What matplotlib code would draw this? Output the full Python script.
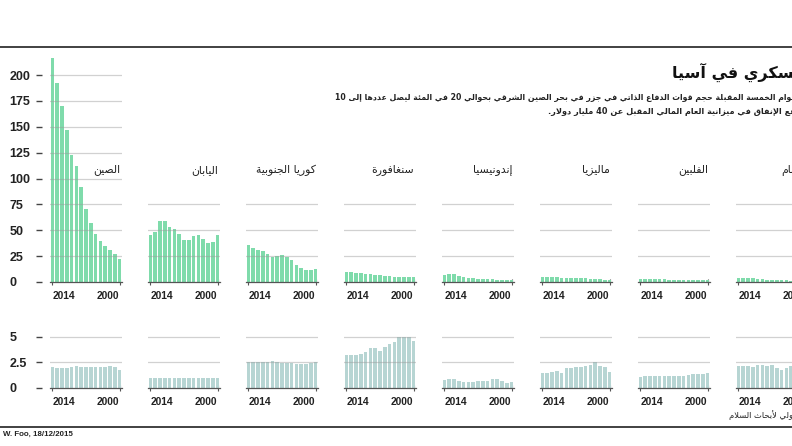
import re
import matplotlib
matplotlib.use('Agg')
import matplotlib.pyplot as plt
from matplotlib.lines import Line2D

# ---------------- data ----------------
years = list(range(2014, 1999, -1))  # 2014 ... 2000 (left to right)
countries = ['الصين', 'اليابان', 'كوريا الجنوبية', 'سنغافورة',
             'إندونيسيا', 'ماليزيا', 'الفلبين', 'فيتنام']

# military spending, billion USD
china_bn = [216, 192, 170, 147, 123, 112, 92, 71, 57, 46, 40, 35, 31, 27, 22]
japan_bn = [45, 48, 59, 59, 53, 51, 46, 41, 41, 44, 45, 42, 38, 39, 45]
korea_bn = [36, 33, 31, 30, 27, 24, 25, 26, 24, 21, 16, 14, 12, 12, 12.5]
singapore_bn = [9.5, 9.3, 9.0, 8.6, 8.2, 7.8, 7.0, 6.4, 6.0, 5.6, 5.2, 4.9, 4.8, 4.6, 4.8]
indonesia_bn = [7.0, 8.0, 7.5, 6.0, 4.5, 4.0, 3.5, 3.2, 3.0, 2.8, 2.6, 2.4, 2.0, 1.8, 1.6]
malaysia_bn = [4.9, 4.8, 4.5, 4.7, 4.3, 4.2, 4.0, 3.9, 3.6, 3.4, 3.2, 3.0, 2.5, 2.0, 1.8]
philippines_bn = [3.3, 3.2, 3.0, 2.9, 2.7, 2.5, 2.4, 2.3, 2.2, 2.2, 2.1, 2.1, 2.0, 2.0, 2.0]
vietnam_bn = [4.3, 4.0, 3.9, 3.4, 3.2, 2.8, 2.4, 2.0, 1.8, 1.6, 1.5, 1.3, 1.2, 1.1, 1.0]

# military spending, % of GDP
china_gdp = [2.0, 1.95, 1.95, 1.95, 2.03, 2.13, 2.0, 2.0, 2.0, 2.0, 2.0, 2.06, 2.13, 2.0, 1.8]
japan_gdp = [0.97, 0.98, 1.0, 1.0, 0.98, 0.98, 0.95, 0.95, 0.97, 0.97, 0.97, 0.97, 0.97, 0.95, 0.95]
korea_gdp = [2.55, 2.58, 2.55, 2.55, 2.55, 2.65, 2.58, 2.48, 2.48, 2.48, 2.32, 2.32, 2.35, 2.48, 2.5]
singapore_gdp = [3.25, 3.2, 3.2, 3.3, 3.5, 3.85, 3.85, 3.6, 3.95, 4.3, 4.45, 4.95, 5.0, 4.95, 4.55]
indonesia_gdp = [0.77, 0.9, 0.87, 0.65, 0.61, 0.55, 0.55, 0.71, 0.71, 0.71, 0.87, 0.87, 0.65, 0.48, 0.58]
malaysia_gdp = [1.45, 1.45, 1.52, 1.61, 1.48, 1.9, 1.9, 2.0, 2.0, 2.13, 2.26, 2.55, 2.19, 2.03, 1.58]
philippines_gdp = [1.06, 1.16, 1.13, 1.13, 1.16, 1.16, 1.16, 1.19, 1.19, 1.19, 1.26, 1.35, 1.32, 1.32, 1.42]
vietnam_gdp = [2.19, 2.19, 2.13, 2.0, 2.26, 2.26, 2.19, 2.26, 1.9, 1.74, 1.95, 2.1, 2.2, 2.3, 2.2]

top_ticks = [0, 25, 50, 75, 100, 125, 150, 175, 200]
top_ticklabels = ['0', '25', '50', '75', '100', '125', '150', '175', '200']
bot_ticks = [0, 2.5, 5]
bot_ticklabels = ['0', '2.5', '5']
x_ticks = [2014, 2000]
x_ticklabels = ['2014', '2000']

title = 'الإنفاق العسكري في آسيا'
subtitle1 = ('وستزيد اليابان خلال الأعوام الخمسة المقبلة حجم قوات الدفاع الذاتي في جزر '
             'في بحر الصين الشرقي بحوالي 20 في المئة ليصل عددها إلى 10')
subtitle2 = 'آلاف جندي، كما سيرتفع الإنفاق في ميزانية العام المالي المقبل عن 40 مليار دولار.'
source = 'المصدر: معهد ستوكهولم الدولي لأبحاث السلام'
credit = 'W. Foo, 18/12/2015'

spending = [china_bn, japan_bn, korea_bn, singapore_bn, indonesia_bn,
            malaysia_bn, philippines_bn, vietnam_bn]
gdp_share = [china_gdp, japan_gdp, korea_gdp, singapore_gdp, indonesia_gdp,
             malaysia_gdp, philippines_gdp, vietnam_gdp]

# ---------------- minimal Arabic shaping (presentation forms + visual order) ----------------
AR = {
    '\u0621': ('\uFE80', None, None, None),
    '\u0622': ('\uFE81', '\uFE82', None, None),
    '\u0623': ('\uFE83', '\uFE84', None, None),
    '\u0624': ('\uFE85', '\uFE86', None, None),
    '\u0625': ('\uFE87', '\uFE88', None, None),
    '\u0626': ('\uFE89', '\uFE8A', '\uFE8B', '\uFE8C'),
    '\u0627': ('\uFE8D', '\uFE8E', None, None),
    '\u0628': ('\uFE8F', '\uFE90', '\uFE91', '\uFE92'),
    '\u0629': ('\uFE93', '\uFE94', None, None),
    '\u062A': ('\uFE95', '\uFE96', '\uFE97', '\uFE98'),
    '\u062B': ('\uFE99', '\uFE9A', '\uFE9B', '\uFE9C'),
    '\u062C': ('\uFE9D', '\uFE9E', '\uFE9F', '\uFEA0'),
    '\u062D': ('\uFEA1', '\uFEA2', '\uFEA3', '\uFEA4'),
    '\u062E': ('\uFEA5', '\uFEA6', '\uFEA7', '\uFEA8'),
    '\u062F': ('\uFEA9', '\uFEAA', None, None),
    '\u0630': ('\uFEAB', '\uFEAC', None, None),
    '\u0631': ('\uFEAD', '\uFEAE', None, None),
    '\u0632': ('\uFEAF', '\uFEB0', None, None),
    '\u0633': ('\uFEB1', '\uFEB2', '\uFEB3', '\uFEB4'),
    '\u0634': ('\uFEB5', '\uFEB6', '\uFEB7', '\uFEB8'),
    '\u0635': ('\uFEB9', '\uFEBA', '\uFEBB', '\uFEBC'),
    '\u0636': ('\uFEBD', '\uFEBE', '\uFEBF', '\uFEC0'),
    '\u0637': ('\uFEC1', '\uFEC2', '\uFEC3', '\uFEC4'),
    '\u0638': ('\uFEC5', '\uFEC6', '\uFEC7', '\uFEC8'),
    '\u0639': ('\uFEC9', '\uFECA', '\uFECB', '\uFECC'),
    '\u063A': ('\uFECD', '\uFECE', '\uFECF', '\uFED0'),
    '\u0641': ('\uFED1', '\uFED2', '\uFED3', '\uFED4'),
    '\u0642': ('\uFED5', '\uFED6', '\uFED7', '\uFED8'),
    '\u0643': ('\uFED9', '\uFEDA', '\uFEDB', '\uFEDC'),
    '\u0644': ('\uFEDD', '\uFEDE', '\uFEDF', '\uFEE0'),
    '\u0645': ('\uFEE1', '\uFEE2', '\uFEE3', '\uFEE4'),
    '\u0646': ('\uFEE5', '\uFEE6', '\uFEE7', '\uFEE8'),
    '\u0647': ('\uFEE9', '\uFEEA', '\uFEEB', '\uFEEC'),
    '\u0648': ('\uFEED', '\uFEEE', None, None),
    '\u0649': ('\uFEEF', '\uFEF0', None, None),
    '\u064A': ('\uFEF1', '\uFEF2', '\uFEF3', '\uFEF4'),
}
LAM_ALEF = {'\u0622': ('\uFEF5', '\uFEF6'), '\u0623': ('\uFEF7', '\uFEF8'),
            '\u0625': ('\uFEF9', '\uFEFA'), '\u0627': ('\uFEFB', '\uFEFC')}


def _joins_next(c):
    return c in AR and AR[c][2] is not None


def _joins_prev(c):
    return c in AR and AR[c][1] is not None


def ar(s):
    out = []
    i, n, prev = 0, len(s), None
    while i < n:
        c = s[i]
        if c not in AR:
            out.append(c)
            prev = None
            i += 1
            continue
        conn_prev = prev is not None and _joins_next(prev)
        if c == '\u0644' and i + 1 < n and s[i + 1] in LAM_ALEF:
            iso, fin = LAM_ALEF[s[i + 1]]
            out.append(fin if conn_prev else iso)
            prev = s[i + 1]
            i += 2
            continue
        nxt = s[i + 1] if i + 1 < n else None
        conn_next = _joins_next(c) and nxt is not None and _joins_prev(nxt)
        iso, fin, ini, med = AR[c]
        if conn_prev and conn_next:
            f = med
        elif conn_prev:
            f = fin
        elif conn_next:
            f = ini
        else:
            f = iso
        out.append(f)
        prev = c
        i += 1
    vis = ''.join(out)[::-1]
    vis = re.sub(r'[0-9]+', lambda m: m.group(0)[::-1], vis)
    return vis


# ---------------- layout ----------------
W, H = 792, 446
fig = plt.figure(figsize=(W / 100, H / 100), dpi=100)
fig.patch.set_facecolor('white')


def fx(x):
    return x / W


def fy(y):
    return 1 - y / H


AR_FONT = ['DejaVu Sans']
LAT_FONT = ['Liberation Sans', 'DejaVu Sans']

TOP_BASE, TOP_SCALE, TOP_MAX = 282, 1.035, 222
BOT_BASE, BOT_SCALE, BOT_MAX = 388, 10.27, 5.3
L0, STEP, PW = 50, 98, 72
GREEN = '#7fdbab'
TEAL = '#b7d5d3'
GRID = '#9a9a9a'
AXC = '#555555'

rows = [
    (spending, TOP_BASE, TOP_SCALE, TOP_MAX, GREEN, top_ticks, top_ticklabels),
    (gdp_share, BOT_BASE, BOT_SCALE, BOT_MAX, TEAL, bot_ticks, bot_ticklabels),
]

for r, (series, base, scale, ymax, color, yt, ytl) in enumerate(rows):
    for i, vals in enumerate(series):
        left = L0 + STEP * i
        h = ymax * scale
        ax = fig.add_axes([fx(left), fy(base), PW / W, h / H])
        ax.set_facecolor('none')
        ax.bar(years, vals, width=0.78, color=color, zorder=2)
        if r == 0:
            grid_vals = [t for t in yt if t > 0 and (i == 0 and t <= 200 or t <= 75)]
        else:
            grid_vals = [t for t in yt if t > 0]
        for g in grid_vals:
            ax.axhline(g, color=GRID, lw=0.9, alpha=0.45, zorder=3)
        ax.set_xlim(2014.5, 1999.5)
        ax.set_ylim(0, ymax)
        for sp in ['top', 'right']:
            ax.spines[sp].set_visible(False)
        ax.spines['bottom'].set_color(AXC)
        ax.spines['bottom'].set_linewidth(0.9)
        ax.spines['bottom'].set_zorder(4)
        ax.set_xticks(x_ticks)
        ax.set_xticklabels(x_ticklabels, fontfamily=LAT_FONT, fontweight='bold',
                           fontsize=7.4, color='#222222')
        xl = ax.get_xticklabels()
        xl[0].set_horizontalalignment('left')
        xl[1].set_horizontalalignment('right')
        ax.tick_params(axis='x', direction='inout', length=4, width=0.8,
                       color=AXC, pad=4.5)
        if i == 0:
            ax.spines['left'].set_position(('outward', 6))
            ax.spines['left'].set_visible(False)
            ax.set_yticks(yt)
            ax.set_yticklabels(ytl, fontfamily=LAT_FONT, fontweight='bold',
                               fontsize=9, color='#222222')
            for lab in ax.get_yticklabels():
                lab.set_horizontalalignment('left')
            ax.tick_params(axis='y', direction='out', length=4.5, width=1.0,
                           color='#444444', pad=18.5)
        else:
            ax.spines['left'].set_visible(False)
            ax.set_yticks([])
        if r == 0:
            fig.text(fx(left + PW - 2), fy(170), ar(countries[i]), ha='right',
                     va='center', fontsize=7.8, fontfamily=AR_FONT, color='#222222')

# ---------------- texts and rules ----------------
fig.add_artist(Line2D([0, 1], [fy(47), fy(47)], color='#333333', lw=1.3))
fig.add_artist(Line2D([0, 1], [fy(427), fy(427)], color='#333333', lw=1.3))

fig.text(fx(672), fy(72), ar(title), ha='left', va='center', fontsize=11.5,
         fontweight='bold', fontfamily=AR_FONT, color='#111111')
fig.text(fx(335), fy(97), ar(subtitle1), ha='left', va='center', fontsize=5.6,
         fontweight='bold', fontfamily=AR_FONT, color='#222222')
fig.text(fx(548), fy(111), ar(subtitle2), ha='left', va='center', fontsize=5.9,
         fontweight='bold', fontfamily=AR_FONT, color='#222222')
fig.text(fx(729), fy(415), ar(source), ha='left', va='center', fontsize=6,
         fontfamily=AR_FONT, color='#222222')
fig.text(fx(3), fy(434), credit, ha='left', va='center', fontsize=5.7,
         fontweight='bold', fontfamily=LAT_FONT, color='#222222')

fig.savefig('out.png', dpi=100, facecolor='white')
